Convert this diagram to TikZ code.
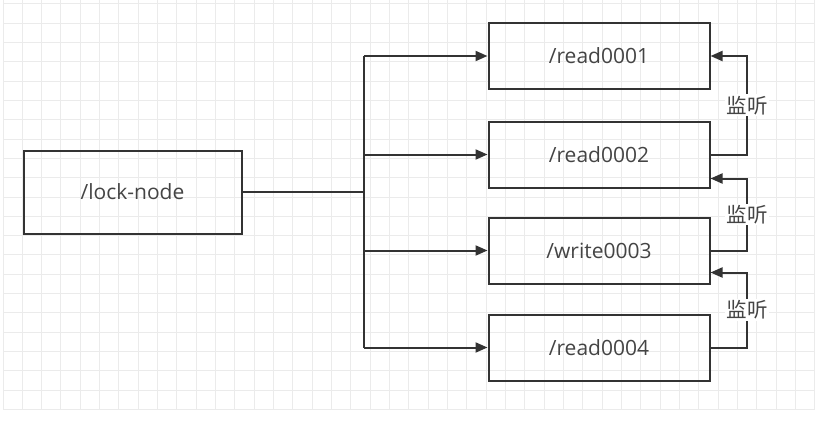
\documentclass[tikz,border=0pt]{standalone}
\usepackage{fontspec}
\setmainfont{Open Sans}
\newfontfamily\cjk{Noto Sans CJK SC}
\usetikzlibrary{arrows.meta}
\definecolor{linegray}{HTML}{333333}
\definecolor{textgray}{HTML}{444444}
\definecolor{gridgray}{HTML}{EBEBEB}
\tikzset{
	znode/.style={draw=linegray, line width=2pt, minimum width=221pt, minimum height=66pt, inner sep=0pt, text=textgray, font=\fontsize{21}{25}\selectfont},
	link/.style={draw=linegray, line width=2pt, -{Triangle[length=12pt,width=10pt]}},
	watch/.style={fill=white, inner sep=1.5pt, text=textgray, font=\cjk\fontsize{20.5}{24}\selectfont}
}
\begin{document}
\begin{tikzpicture}[x=1pt,y=-1pt]
	\useasboundingbox (0,0) rectangle (828,428);
	\foreach \gx in {0,...,42}{
	\draw[gridgray, line width=1pt] ({3+\gx*19.33},0) -- ({3+\gx*19.33},410);
	}
	\foreach \gy in {0,...,21}{
	\draw[gridgray, line width=1pt] (3,{4+\gy*19.3}) -- (815,{4+\gy*19.3});
	}

	\node[znode, minimum width=218pt, minimum height=83pt] (lock) at (132.5,192) {/lock-node};
	\node[znode] (r1) at (599,56) {/read0001};
	\node[znode] (r2) at (599,154.5) {/read0002};
	\node[znode] (w3) at (599,250.5) {/write0003};
	\node[znode] (r4) at (599,347.5) {/read0004};

	\coordinate (trunk) at (364,0);
	\coordinate (back) at (747,0);
	\coordinate (in2) at ([yshift=10pt]r2.south east);
	\coordinate (in3) at ([yshift=12pt]w3.south east);

	\draw[linegray, line width=2pt] (lock.east) -- (lock.east -| trunk);
	\draw[linegray, line width=2pt] (trunk |- r1) -- (trunk |- r4);
	\foreach \n in {r1,r2,w3,r4}{
	\draw[link] (trunk |- \n) -- (\n.west);
	}

	\draw[link] (r2.east) -- (r2.east -| back) -- node[watch]{监听} (back |- r1) -- (r1.east);
	\draw[link] (w3.east) -- (w3.east -| back) -- node[watch]{监听} (back |- in2) -- (in2);
	\draw[link] (r4.east) -- (r4.east -| back) -- node[watch]{监听} (back |- in3) -- (in3);
\end{tikzpicture}
\end{document}
